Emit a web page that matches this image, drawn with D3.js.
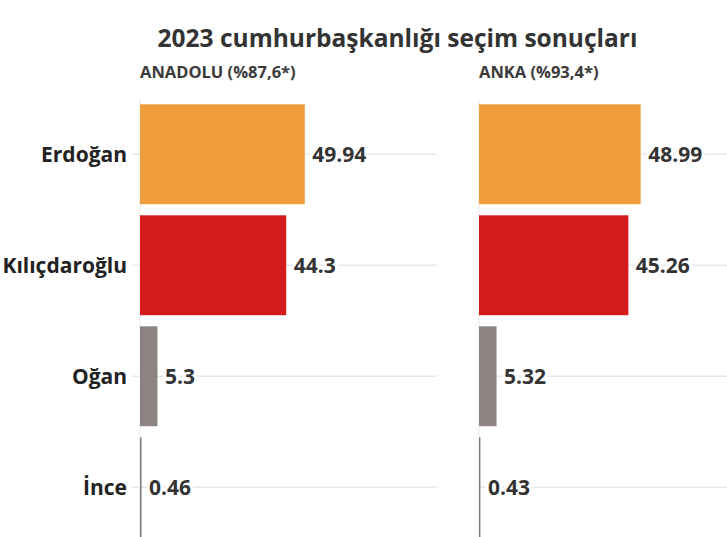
<!DOCTYPE html>
<html>
<head>
<meta charset="utf-8">
<script src="https://cdn.jsdelivr.net/npm/d3@7"></script>
<style>
  html, body { margin: 0; padding: 0; background: #fff; }
  svg { display: block; font-family: "Open Sans", sans-serif; }
</style>
</head>
<body>
<svg id="chart" width="727" height="537"></svg>
<script>
const title = "2023 cumhurbaşkanlığı seçim sonuçları";
const candidates = ["Erdoğan", "Kılıçdaroğlu", "Oğan", "İnce"];
const colors = ["#f09d3b", "#d41a1b", "#8c8382", "#7a7a7a"];
const panelTitles = ["ANADOLU (%87,6*)", "ANKA (%93,4*)"];
const anadoluValues = [49.94, 44.3, 5.3, 0.46];
const ankaValues = [48.99, 45.26, 5.32, 0.43];
const valueDomain = [0, 90];

const svg = d3.select("#chart");

svg.append("text")
  .attr("x", 397.5).attr("y", 47)
  .attr("text-anchor", "middle")
  .attr("font-size", 24.5).attr("font-weight", 700)
  .attr("fill", "#333")
  .text(title);

const y = d3.scaleBand()
  .domain(candidates)
  .range([98.75, 542.75])
  .paddingInner(0.1)
  .paddingOuter(0.05);

const color = d3.scaleOrdinal().domain(candidates).range(colors);

const panels = [
  { name: panelTitles[0], values: anadoluValues, x0: 140, showLabels: true },
  { name: panelTitles[1], values: ankaValues, x0: 479, showLabels: false }
];

panels.forEach(p => {
  const x = d3.scaleLinear().domain(valueDomain).range([p.x0, p.x0 + 297]);
  const data = candidates.map((c, i) => ({ c, v: p.values[i] }));
  const g = svg.append("g");

  g.append("text")
    .attr("x", p.x0).attr("y", 78)
    .attr("font-size", 16.5).attr("font-weight", 700)
    .attr("fill", "#3a3a3a")
    .text(p.name);

  // axis line
  g.append("line")
    .attr("x1", x(0)).attr("x2", x(0))
    .attr("y1", y.range()[0]).attr("y2", y.range()[1])
    .attr("stroke", "#e8e8e8").attr("stroke-width", 1);

  // gridlines
  g.selectAll("line.grid").data(data).join("line")
    .attr("class", "grid")
    .attr("x1", p.showLabels ? x(0) - 8 : x(0))
    .attr("x2", x(valueDomain[1]))
    .attr("y1", d => y(d.c) + y.bandwidth() / 2)
    .attr("y2", d => y(d.c) + y.bandwidth() / 2)
    .attr("stroke", "#e8e8e8").attr("stroke-width", 1.5);

  g.selectAll("rect.bar").data(data).join("rect")
    .attr("class", "bar")
    .attr("x", x(0))
    .attr("y", d => y(d.c))
    .attr("width", d => x(d.v) - x(0))
    .attr("height", y.bandwidth())
    .attr("fill", d => color(d.c));

  g.selectAll("text.val").data(data).join("text")
    .attr("class", "val")
    .attr("x", d => x(d.v) + 7.5)
    .attr("y", d => y(d.c) + y.bandwidth() / 2)
    .attr("dy", "0.36em")
    .attr("font-size", 21).attr("font-weight", 700)
    .attr("fill", "#333")
    .attr("stroke", "#fff").attr("stroke-width", 6)
    .attr("paint-order", "stroke")
    .attr("stroke-linejoin", "round")
    .text(d => d.v);

  if (p.showLabels) {
    g.selectAll("text.cat").data(data).join("text")
      .attr("class", "cat")
      .attr("x", x(0) - 13)
      .attr("y", d => y(d.c) + y.bandwidth() / 2)
      .attr("dy", "0.36em")
      .attr("text-anchor", "end")
      .attr("font-size", 21).attr("font-weight", 700)
      .attr("fill", "#222")
      .text(d => d.c);
  }
});
</script>
</body>
</html>
